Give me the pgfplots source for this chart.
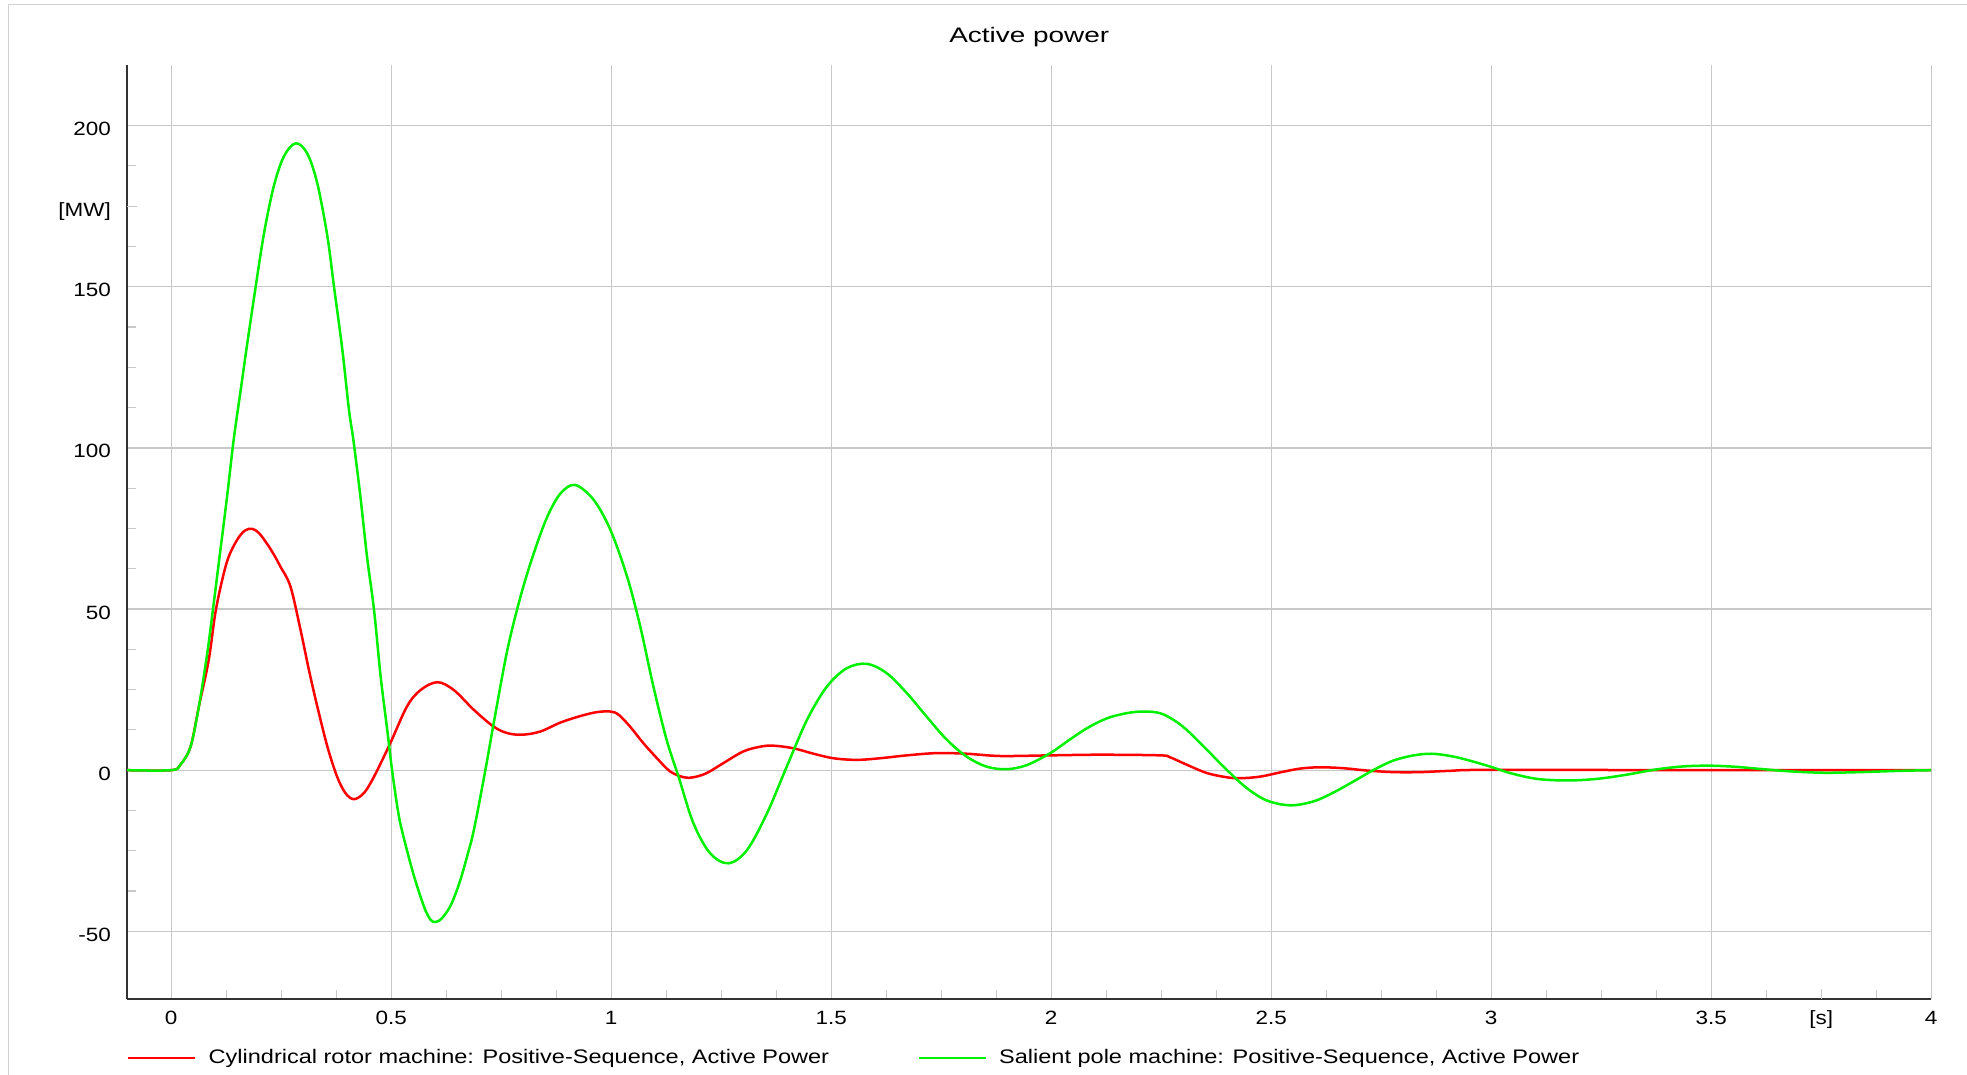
\documentclass[border=0pt]{standalone}
\usepackage{fontspec}
\setmainfont{Liberation Sans}[FakeStretch=1.17]
\newfontfamily\titlefont{Liberation Sans}[FakeStretch=1.33]
\newfontfamily\legfont{Liberation Sans}[FakeStretch=1.2]
\usepackage{pgfplots}
\pgfplotsset{compat=1.18}
\definecolor{gridgray}{RGB}{200,200,200}
\definecolor{framegray}{RGB}{210,210,210}
\definecolor{axisdark}{RGB}{50,50,50}
\definecolor{pfred}{RGB}{255,0,0}
\definecolor{pfgreen}{RGB}{0,240,0}
\begin{document}
\begin{tikzpicture}
\path[use as bounding box] (0pt,0pt) rectangle (983.5pt,537.5pt);
\draw[framegray, line width=0.6pt] (4.15pt,0pt) -- (4.15pt,535.35pt) -- (983.5pt,535.35pt);
\begin{axis}[
  at={(63.6pt,38.15pt)}, anchor=south west,
  scale only axis, width=902pt, height=466.85pt,
  xmin=-0.1, xmax=4, ymin=-70.9, ymax=218.8,
  axis x line=bottom, axis y line=left,
  axis line style={-, draw=axisdark, line width=1pt},
  xtick={0,0.5,1,1.5,2,2.5,3,3.5,4},
  ytick={-50,0,50,100,150,200},
  extra x ticks={3.75}, extra x tick labels={[s]},
  extra y ticks={175}, extra y tick labels={[MW]},
  extra x tick style={grid=none},
  extra y tick style={grid=none},
  minor x tick num=3, minor y tick num=3,
  grid=major,
  major grid style={gridgray, line width=0.65pt},
  tick align=inside,
  major tick length=5pt, minor tick length=4.5pt,
  every tick/.style={gridgray, line width=0.6pt},
  /pgf/number format/assume math mode=true,
  every tick label/.append style={font=\fontsize{9.6pt}{11pt}\selectfont},
  xticklabel style={anchor=base, inner sep=0pt, yshift=-13.15pt},
  yticklabel style={anchor=base east, inner sep=0pt, xshift=-8pt, yshift=-5pt},
  title={Active power},
  title style={font=\titlefont\fontsize{10.5pt}{12pt}\selectfont, at={(0.5,1)}, anchor=base, yshift=5pt, inner sep=0pt},
  legend columns=2,
  legend style={draw=none, fill=none, at={(0,0)}, anchor=west, yshift=-29.75pt,
    font=\legfont\fontsize{9.8pt}{11pt}\selectfont, inner sep=0pt, outer sep=0pt,
    nodes={inner sep=0pt},
    /tikz/every odd column/.style={column sep=6pt},
    /tikz/every even column/.style={column sep=0pt}},
  legend image code/.code={\draw[#1, line width=1.25pt] (0pt,0pt) -- (33.5pt,0pt);},
]
\addplot[pfred, line width=1.25pt, smooth, tension=0.55] coordinates {
(-0.1,0) (0,0) (0.021,1.7) (0.044,7.3) (0.063,19.8) (0.085,34) (0.1,48.5) (0.115,58.5)
(0.13,66) (0.15,71.5) (0.167,74.3) (0.184,74.9) (0.2,73.5) (0.22,69.8) (0.235,66.5)
(0.248,63.2) (0.271,57) (0.294,43.5) (0.313,31.1) (0.332,19.8) (0.355,7.3) (0.377,-2)
(0.396,-7.1) (0.415,-9.0) (0.438,-7.1) (0.461,-2) (0.498,8.4) (0.536,19.8) (0.567,24.9)
(0.605,27.3) (0.642,24.9) (0.688,18.7) (0.733,13.5) (0.764,11.5) (0.798,11.0) (0.839,12.0)
(0.885,14.8) (0.930,16.8) (0.967,18.0) (0.998,18.2) (1.017,17.2) (1.043,13.5) (1.073,8.4)
(1.104,3.7) (1.134,-0.4) (1.165,-2.2) (1.187,-2.2) (1.217,-0.9) (1.255,2.2) (1.3,5.8)
(1.339,7.3) (1.369,7.6) (1.414,6.8) (1.46,5.1) (1.505,3.7) (1.558,3.2) (1.611,3.7)
(1.672,4.6) (1.74,5.3) (1.808,5.1) (1.884,4.4) (1.998,4.6) (2.111,4.8) (2.247,4.6)
(2.27,4.0) (2.308,1.7) (2.354,-0.9) (2.399,-2.2) (2.43,-2.5) (2.475,-2.0) (2.52,-0.7)
(2.566,0.5) (2.612,0.9) (2.665,0.6) (2.717,-0.1) (2.778,-0.6) (2.839,-0.6) (2.907,-0.2)
(3.0,0.1) (3.5,0) (4.0,0)
};
\addlegendentry{\makebox[354.5pt][l]{Cylindrical rotor machine: Positive-Sequence, Active Power}}
\addplot[pfgreen, line width=1.25pt, smooth, tension=0.55] coordinates {
(-0.1,0) (0,0) (0.021,1.7) (0.044,7.3) (0.063,19.8) (0.082,36.3) (0.095,50) (0.11,66.3)
(0.127,84.9) (0.142,102.5) (0.158,118) (0.173,132.5) (0.192,150) (0.211,166.6)
(0.233,181.1) (0.256,190.4) (0.283,194.5) (0.309,191.4) (0.332,182.1) (0.355,165.6)
(0.370,150) (0.389,130.4) (0.404,111.8) (0.414,102.5) (0.430,84.9) (0.445,66.3)
(0.461,49.7) (0.476,29.1) (0.491,12.5) (0.502,0) (0.515,-12.3) (0.525,-19) (0.55,-32)
(0.575,-42.5) (0.59,-46.5) (0.601,-47.1) (0.615,-46) (0.635,-42) (0.655,-35) (0.673,-26.5)
(0.688,-18.5) (0.714,0) (0.733,14.6) (0.764,37.3) (0.794,53.9) (0.824,67.3) (0.855,78.7)
(0.885,85.9) (0.918,88.5) (0.960,83.9) (0.998,74.6) (1.036,60.1) (1.066,44.6) (1.096,25.9)
(1.126,9.4) (1.153,-2.0) (1.187,-16.5) (1.225,-25.8) (1.267,-28.9) (1.309,-24.7)
(1.354,-13.4) (1.399,1.1) (1.445,15.6) (1.490,25.9) (1.535,31.6) (1.581,33.0) (1.626,30.1)
(1.672,23.9) (1.717,16.6) (1.763,9.4) (1.808,4.2) (1.853,1.1) (1.899,0.3) (1.945,1.6)
(1.998,5.3) (2.036,8.9) (2.081,13.0) (2.127,16.1) (2.172,17.7) (2.21,18.2) (2.247,17.7)
(2.278,15.6) (2.308,12.5) (2.354,6.3) (2.399,0.1) (2.445,-5.6) (2.49,-9.4) (2.543,-10.9)
(2.596,-9.7) (2.642,-6.9) (2.687,-3.5) (2.733,0.1) (2.778,3.0) (2.824,4.6) (2.865,5.1)
(2.907,4.4) (2.945,3.2) (2.998,1.1) (3.043,-0.9) (3.104,-2.7) (3.172,-3.2) (3.24,-2.7)
(3.308,-1.4) (3.369,0.1) (3.43,1.1) (3.49,1.4) (3.55,1.1) (3.611,0.4) (3.672,-0.3)
(3.755,-0.8) (3.839,-0.6) (3.93,-0.2) (4.0,0)
};
\addlegendentry{Salient pole machine: Positive-Sequence, Active Power}
\end{axis}
\end{tikzpicture}
\end{document}
